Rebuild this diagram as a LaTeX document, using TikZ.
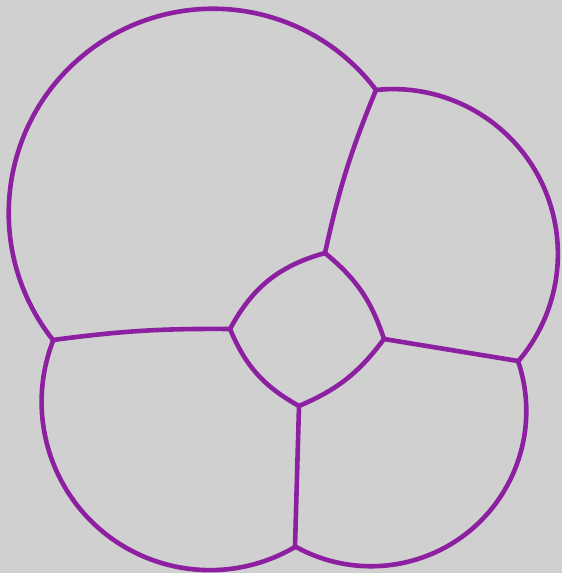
\documentclass[tikz,border=0pt]{standalone}
\definecolor{bg}{RGB}{208,208,208}
\definecolor{foam}{RGB}{140,32,160}
\begin{document}
\begin{tikzpicture}[x=1pt,y=1pt,
  film/.style={draw=foam,line width=4.6pt,line cap=round,line join=round}]
\fill[bg] (0,0) rectangle (562,573);
\useasboundingbox (0,0) rectangle (562,573);
% junctions
\coordinate (A) at (376,483);
\coordinate (B) at (325,320);
\coordinate (C) at (230,244);
\coordinate (D) at (384,234);
\coordinate (E) at (299,167);
\coordinate (F) at (53,233);
\coordinate (G) at (518,212);
\coordinate (H) at (295,26);
% outer films
\draw[film] (F) arc[start angle=218.44, end angle=37.04, radius=204.28];
\draw[film] (A) arc[start angle=95.92, end angle=-40.56, radius=164.88];
\draw[film] (G) arc[start angle=18.78, end angle=-119.20, radius=155.27];
\draw[film] (H) arc[start angle=-59.62, end angle=-201.55, radius=168.3];
% inner films
\draw[film] (A) to[bend right=5] (B);
\draw[film] (C) to[bend right=4] (F);
\draw[film] (D) -- (G);
\draw[film] (E) -- (H);
% central cell
\draw[film] (B) to[bend right=23] (C);
\draw[film] (C) to[bend right=19] (E);
\draw[film] (E) to[bend right=15] (D);
\draw[film] (D) to[bend right=16] (B);
\end{tikzpicture}
\end{document}
